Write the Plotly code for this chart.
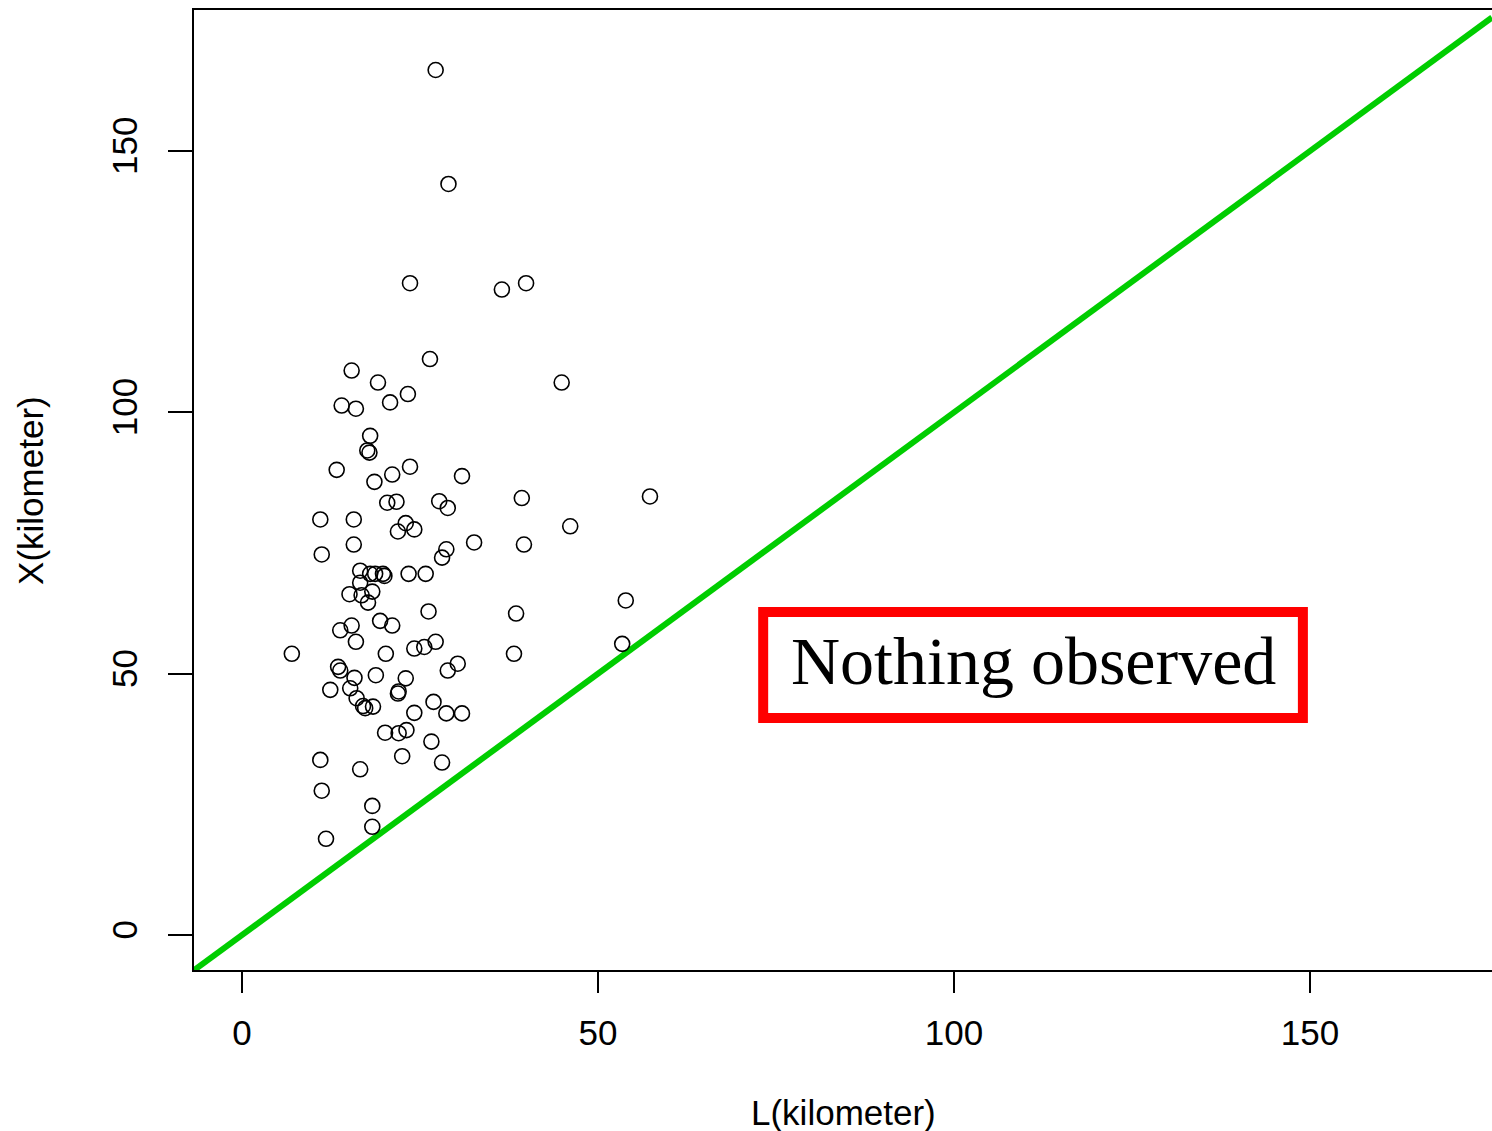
import plotly.graph_objects as go

# Observed pairs: L (km) against X (km)
L_km = [27.2, 29.0, 23.6, 36.5, 39.9, 26.4, 15.4, 19.1, 44.9, 23.3,
        20.8, 14.0, 16.0, 18.0, 17.6, 17.9, 13.3, 18.6, 21.1, 23.6,
        30.9, 39.3, 57.3, 20.4, 21.7, 27.7, 28.9, 11.0, 15.7, 23.0,
        24.2, 21.9, 46.1, 15.7, 32.6, 39.6, 11.2, 28.7, 28.1, 16.6,
        18.0, 18.7, 19.8, 20.0, 23.4, 25.8, 16.6, 15.1, 16.8, 18.3,
        17.7, 53.9, 26.2, 38.5, 19.4, 21.1, 13.8, 15.4, 16.0, 7.0,
        20.2, 24.2, 25.6, 27.2, 38.2, 53.4, 13.5, 13.8, 15.8, 18.8,
        23.0, 28.9, 30.3, 12.4, 15.2, 22.0, 21.9, 16.1, 17.0, 17.3,
        18.4, 26.9, 24.2, 28.7, 30.9, 20.1, 22.0, 23.1, 26.6, 11.0,
        22.5, 28.1, 16.6, 11.2, 18.3, 18.3, 11.8]
X_km = [165.5, 143.7, 124.7, 123.5, 124.7, 110.2, 108.0, 105.7, 105.7, 103.5,
        101.9, 101.3, 100.7, 95.5, 92.7, 92.3, 89.0, 86.7, 88.1, 89.6,
        87.8, 83.6, 83.9, 82.7, 82.9, 83.0, 81.7, 79.5, 79.5, 78.8,
        77.6, 77.2, 78.2, 74.7, 75.1, 74.7, 72.8, 73.8, 72.2, 69.7,
        69.1, 69.1, 69.1, 68.7, 69.1, 69.1, 67.4, 65.2, 65.0, 65.7,
        63.6, 64.0, 61.9, 61.5, 60.1, 59.2, 58.3, 59.2, 56.1, 53.8,
        53.8, 54.8, 55.1, 56.1, 53.8, 55.7, 51.3, 50.6, 49.2, 49.7,
        49.1, 50.6, 51.9, 46.9, 47.2, 46.6, 46.2, 45.3, 43.8, 43.4,
        43.7, 44.6, 42.5, 42.4, 42.4, 38.7, 38.6, 39.2, 37.0, 33.5,
        34.2, 33.0, 31.7, 27.6, 24.7, 20.7, 18.4]

x_ticks = [0, 50, 100, 150]
y_ticks = [0, 50, 100, 150]
x_range = [-6.74, 175.56]
y_range = [-6.70, 176.98]

# Region below the identity line, where no pair can occur
note_text = "Nothing observed"
note_box = dict(x0=73.2, x1=149.0, y0=41.5, y1=61.8)

tick_font = dict(family="Liberation Sans, Arial, sans-serif", size=35, color="black")

fig = go.Figure()

# Identity line X = L across the full axis range
fig.add_trace(go.Scatter(
    x=x_range, y=x_range, mode="lines",
    line=dict(color="#00CD00", width=6),
    showlegend=False, hoverinfo="skip",
))

fig.add_trace(go.Scatter(
    x=L_km, y=X_km, mode="markers",
    marker=dict(symbol="circle-open", size=15, color="black",
                line=dict(color="black", width=1.6)),
    showlegend=False,
))

fig.add_shape(type="rect", xref="x", yref="y",
              x0=note_box["x0"], x1=note_box["x1"],
              y0=note_box["y0"], y1=note_box["y1"],
              line=dict(color="#FF0000", width=10), fillcolor="white",
              layer="below")

fig.add_annotation(
    x=(note_box["x0"] + note_box["x1"]) / 2,
    y=(note_box["y0"] + note_box["y1"]) / 2,
    xref="x", yref="y", text=note_text, showarrow=False,
    font=dict(family="Liberation Serif, Times New Roman, serif", size=68, color="black"),
    xanchor="center", yanchor="middle", yshift=4,
)

fig.add_annotation(
    x=0.5, y=-0.148, xref="paper", yref="paper", text="L(kilometer)",
    showarrow=False, xanchor="center", yanchor="middle", font=tick_font,
)
fig.add_annotation(
    x=-0.1264, y=0.5, xref="paper", yref="paper", text="X(kilometer)",
    showarrow=False, xanchor="center", yanchor="middle", textangle=-90,
    font=tick_font,
)

fig.update_layout(
    width=1492, height=1131, autosize=False,
    margin=dict(l=194, r=0, t=10, b=161),
    paper_bgcolor="white", plot_bgcolor="white",
    showlegend=False,
    xaxis=dict(
        range=x_range, tickvals=x_ticks, ticktext=[str(v) for v in x_ticks],
        showgrid=False, zeroline=False,
        showline=True, linecolor="black", linewidth=1.6, mirror=True,
        ticks="outside", ticklen=21, tickwidth=1.6, tickcolor="black",
        tickfont=tick_font, ticklabelstandoff=10,
    ),
    yaxis=dict(
        range=y_range, tickvals=y_ticks, ticktext=[str(v) for v in y_ticks],
        showgrid=False, zeroline=False,
        showline=True, linecolor="black", linewidth=1.6, mirror=False,
        ticks="outside", ticklen=24, tickwidth=1.6, tickcolor="black",
        tickfont=tick_font, tickangle=-90, ticklabelstandoff=17,
    ),
)

fig.write_html("out.html")
